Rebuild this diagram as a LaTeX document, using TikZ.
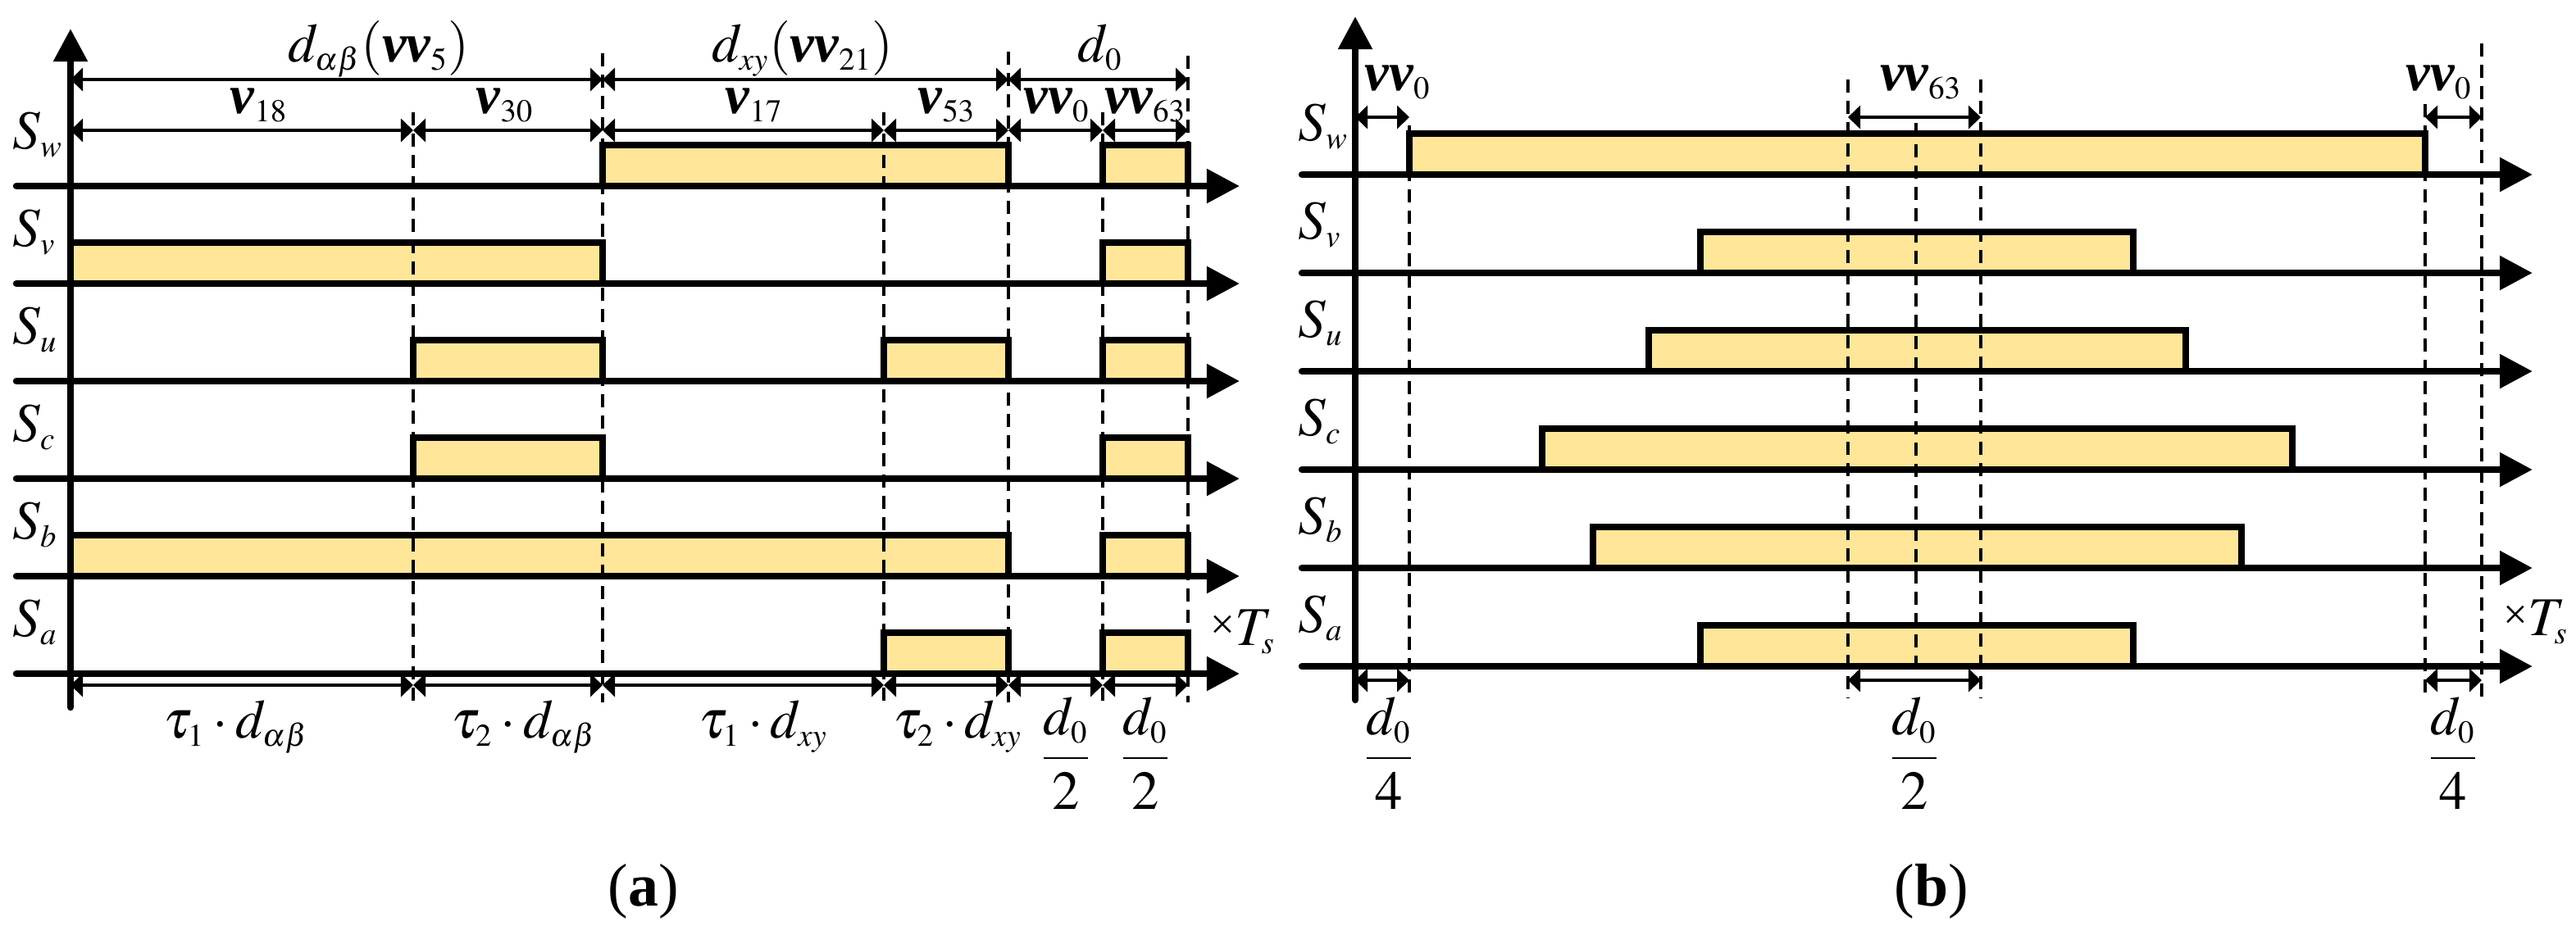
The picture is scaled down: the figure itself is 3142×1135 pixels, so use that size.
\documentclass[tikz,border=0pt]{standalone}
\usepackage{mathptmx}
\usepackage[no-math]{fontspec}
\setmainfont{Liberation Serif}
\usetikzlibrary{arrows.meta}
\DeclareMathSizes{19}{19}{11}{8}
\definecolor{pulsefill}{RGB}{255,230,153}
\newcommand{\bv}{\mbox{\bfseries\itshape v}}
\newcommand{\timesTs}{\raisebox{0.08cm}{\fontsize{15}{15}\selectfont ×}$T_s$}

\begin{document}
\begin{tikzpicture}[x=0.01cm, y=-0.01cm]
% Styles
\tikzset{
    axisline/.style={line width=2.4pt, line cap=round,
        -{Triangle[length=0.4cm, width=0.4cm]}},
    pulse/.style={draw, line width=2.3pt, fill=pulsefill},
    guide/.style={line width=1.1pt, dash pattern=on 0.16cm off 0.1cm},
    dimline/.style={line width=1.1pt,
        {Triangle[length=0.15cm, width=0.28cm]}-{Triangle[length=0.15cm, width=0.28cm]}},
    lbl/.style={inner sep=0pt, font=\fontsize{19}{22}\selectfont},
    caption/.style={inner sep=0pt, font=\fontsize{21}{24}\selectfont}
}
\useasboundingbox (0,0) rectangle (3142,1135);

% ---------------- (a) ----------------
% Pulses
\draw[pulse] (735,227) rectangle (1230,177);
\draw[pulse] (1345,227) rectangle (1449,177);
\draw[pulse] (86,346) rectangle (735,296);
\draw[pulse] (1345,346) rectangle (1449,296);
\draw[pulse] (504,465) rectangle (735,415);
\draw[pulse] (1078,465) rectangle (1230,415);
\draw[pulse] (1345,465) rectangle (1449,415);
\draw[pulse] (504,584) rectangle (735,534);
\draw[pulse] (1345,584) rectangle (1449,534);
\draw[pulse] (86,703) rectangle (1230,653);
\draw[pulse] (1345,703) rectangle (1449,653);
\draw[pulse] (1078,822) rectangle (1230,772);
\draw[pulse] (1345,822) rectangle (1449,772);

% Guides
\draw[guide] (504,137) -- (504,857);
\draw[guide] (735,65) -- (735,857);
\draw[guide] (1078,137) -- (1078,857);
\draw[guide] (1230,63) -- (1230,857);
\draw[guide] (1345,137) -- (1345,857);
\draw[guide] (1449,68) -- (1449,857);

% Axes
\draw[axisline] (20,227) -- (1512,227);
\draw[axisline] (20,346) -- (1512,346);
\draw[axisline] (20,465) -- (1512,465);
\draw[axisline] (20,584) -- (1512,584);
\draw[axisline] (20,703) -- (1512,703);
\draw[axisline] (20,822) -- (1512,822);
\draw[axisline] (86,863) -- (86,35);

% Dimensions
\draw[dimline] (86,97) -- (735,97);
\draw[dimline] (735,97) -- (1230,97);
\draw[dimline] (1230,97) -- (1449,97);
\draw[dimline] (86,159) -- (504,159);
\draw[dimline] (504,159) -- (735,159);
\draw[dimline] (735,159) -- (1078,159);
\draw[dimline] (1078,159) -- (1230,159);
\draw[dimline] (1230,159) -- (1345,159);
\draw[dimline] (1345,159) -- (1449,159);
\draw[dimline] (86,836) -- (504,836);
\draw[dimline] (504,836) -- (735,836);
\draw[dimline] (735,836) -- (1078,836);
\draw[dimline] (1078,836) -- (1230,836);
\draw[dimline] (1230,836) -- (1345,836);
\draw[dimline] (1345,836) -- (1449,836);

% Labels
\node[lbl, anchor=base west] (SwA) at (15,181) {$S_w$};
\node[lbl, anchor=base west] (SvA) at (15,300) {$S_v$};
\node[lbl, anchor=base west] (SuA) at (15,419) {$S_u$};
\node[lbl, anchor=base west] (ScA) at (15,538) {$S_c$};
\node[lbl, anchor=base west] (SbA) at (15,657) {$S_b$};
\node[lbl, anchor=base west] (SaA) at (15,776) {$S_a$};
\node[lbl, anchor=base east] (TsA) at (1556,787) {\timesTs};

\node[lbl, anchor=base] (dabA) at (462,75) {$d_{\alpha\beta}(\bv\bv_5)$};
\node[lbl, anchor=base] (dxyA) at (979,75) {$d_{xy}(\bv\bv_{21})$};
\node[lbl, anchor=base] (dzA) at (1342,75) {$d_0$};
\node[lbl, anchor=base] (v18) at (316,138) {$\bv_{18}$};
\node[lbl, anchor=base] (v30) at (616,138) {$\bv_{30}$};
\node[lbl, anchor=base] (v17) at (920,138) {$\bv_{17}$};
\node[lbl, anchor=base] (v53) at (1155,138) {$\bv_{53}$};
\node[lbl, anchor=base] (vv0A) at (1289,138) {$\bv\bv_0$};
\node[lbl, anchor=base] (vv63A) at (1397,138) {$\bv\bv_{63}$};

\node[lbl, anchor=base] (t1ab) at (288,900) {$\tau_1\cdot d_{\alpha\beta}$};
\node[lbl, anchor=base] (t2ab) at (639,900) {$\tau_2\cdot d_{\alpha\beta}$};
\node[lbl, anchor=base] (t1xy) at (931,900) {$\tau_1\cdot d_{xy}$};
\node[lbl, anchor=base] (t2xy) at (1168,900) {$\tau_2\cdot d_{xy}$};
\node[lbl] (hz1A) at (1300,919) {$\displaystyle\frac{d_0}{2}$};
\node[lbl] (hz2A) at (1397,919) {$\displaystyle\frac{d_0}{2}$};

\node[caption] (capA) at (785,1088) {(\textbf{a})};

% ---------------- (b) ----------------
% Pulses
\draw[pulse] (1719,213) rectangle (2958,163);
\draw[pulse] (2074,333) rectangle (2602,283);
\draw[pulse] (2011,453) rectangle (2666,403);
\draw[pulse] (1881,573) rectangle (2796,523);
\draw[pulse] (1943,693) rectangle (2734,643);
\draw[pulse] (2074,813) rectangle (2602,763);

% Guides
\draw[guide] (1719,153) -- (1719,852);
\draw[guide] (2254,97) -- (2254,852);
\draw[guide] (2337,150) -- (2337,823);
\draw[guide] (2416,97) -- (2416,852);
\draw[guide] (2958,127) -- (2958,852);
\draw[guide] (3027,53) -- (3027,852);

% Axes
\draw[axisline] (1588,213) -- (3089,213);
\draw[axisline] (1588,333) -- (3089,333);
\draw[axisline] (1588,453) -- (3089,453);
\draw[axisline] (1588,573) -- (3089,573);
\draw[axisline] (1588,693) -- (3089,693);
\draw[axisline] (1588,813) -- (3089,813);
\draw[axisline] (1653,854) -- (1653,20);

% Dimensions
\draw[dimline] (1653,143) -- (1719,143);
\draw[dimline] (2254,143) -- (2416,143);
\draw[dimline] (2958,143) -- (3027,143);
\draw[dimline] (1653,830) -- (1719,830);
\draw[dimline] (2254,830) -- (2416,830);
\draw[dimline] (2958,830) -- (3027,830);

% Labels
\node[lbl, anchor=base west] (SwB) at (1583,171) {$S_w$};
\node[lbl, anchor=base west] (SvB) at (1583,291) {$S_v$};
\node[lbl, anchor=base west] (SuB) at (1583,411) {$S_u$};
\node[lbl, anchor=base west] (ScB) at (1583,531) {$S_c$};
\node[lbl, anchor=base west] (SbB) at (1583,651) {$S_b$};
\node[lbl, anchor=base west] (SaB) at (1583,771) {$S_a$};
\node[lbl, anchor=base east] (TsB) at (3133,775) {\timesTs};

\node[lbl, anchor=base] (vv0L) at (1705,110) {$\bv\bv_0$};
\node[lbl, anchor=base] (vv63B) at (2343,110) {$\bv\bv_{63}$};
\node[lbl, anchor=base] (vv0R) at (2975,110) {$\bv\bv_0$};

\node[lbl] (qz1B) at (1694,919) {$\displaystyle\frac{d_0}{4}$};
\node[lbl] (hzB) at (2335,919) {$\displaystyle\frac{d_0}{2}$};
\node[lbl] (qz2B) at (2992,919) {$\displaystyle\frac{d_0}{4}$};

\node[caption] (capB) at (2356,1088) {(\textbf{b})};
\end{tikzpicture}
\end{document}
